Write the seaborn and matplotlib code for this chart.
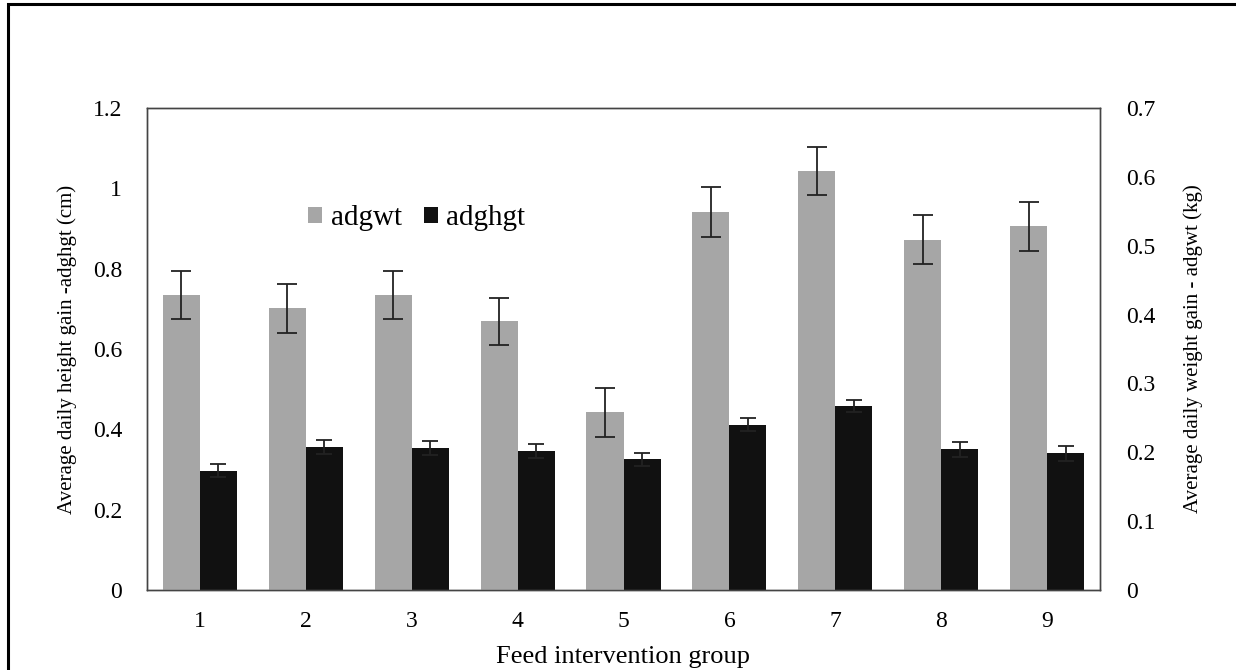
import matplotlib
matplotlib.use("Agg")
import matplotlib.pyplot as plt
import seaborn as sns
import pandas as pd
import numpy as np
from matplotlib.patches import Rectangle, Patch

groups = ["1", "2", "3", "4", "5", "6", "7", "8", "9"]
adgwt = [0.429, 0.409, 0.429, 0.390, 0.258, 0.549, 0.609, 0.509, 0.528]
adgwt_err = [0.035, 0.036, 0.035, 0.034, 0.036, 0.036, 0.035, 0.035, 0.036]
adghgt = [0.297, 0.356, 0.353, 0.346, 0.325, 0.412, 0.458, 0.350, 0.340]
adghgt_err = [0.016, 0.017, 0.017, 0.017, 0.017, 0.015, 0.016, 0.018, 0.018]
series = ["adgwt", "adghgt"]
colors = {"adgwt": "#a6a6a6", "adghgt": "#111111"}

sns.set_style("white")
plt.rcParams["font.family"] = ["Liberation Serif", "DejaVu Serif"]
plt.rcParams["text.color"] = "black"
plt.rcParams["axes.labelcolor"] = "black"
plt.rcParams["xtick.color"] = "black"
plt.rcParams["ytick.color"] = "black"

df_w = pd.DataFrame({"group": groups, "value": adgwt, "series": "adgwt"})
df_h = pd.DataFrame({"group": groups, "value": adghgt, "series": "adghgt"})

fig = plt.figure(figsize=(12.36, 6.70), dpi=100)
ax = fig.add_axes([147/1236, 1 - 590/670, 953/1236, 482/670])
ax2 = ax.twinx()
ax2.patch.set_visible(False)

sns.barplot(data=df_h, x="group", y="value", hue="series", hue_order=series,
            order=groups, palette=colors, width=0.7, errorbar=None, dodge=True,
            ax=ax, legend=False, saturation=1)
sns.barplot(data=df_w, x="group", y="value", hue="series", hue_order=series,
            order=groups, palette=colors, width=0.7, errorbar=None, dodge=True,
            ax=ax2, legend=False, saturation=1)

for a in (ax, ax2):
    for p in a.patches:
        p.set_edgecolor("none")

# error bars at bar centers
hx = [p.get_x() + p.get_width() / 2 for p in ax.patches if p.get_height() > 0]
wx = [p.get_x() + p.get_width() / 2 for p in ax2.patches if p.get_height() > 0]
ax.errorbar(hx, adghgt, yerr=adghgt_err, fmt="none", ecolor="#222222",
            elinewidth=1.3, capsize=6, capthick=1.3)
ax2.errorbar(wx, adgwt, yerr=adgwt_err, fmt="none", ecolor="#222222",
             elinewidth=1.3, capsize=7, capthick=1.3)

ax.set_ylim(0, 1.2)
ax.set_yticks([0, 0.2, 0.4, 0.6, 0.8, 1.0, 1.2])
ax.set_yticklabels(["0", "0.2", "0.4", "0.6", "0.8", "1", "1.2"])
ax2.set_ylim(0, 0.7)
ax2.set_yticks([0, 0.1, 0.2, 0.3, 0.4, 0.5, 0.6, 0.7])
ax2.set_yticklabels(["0", "0.1", "0.2", "0.3", "0.4", "0.5", "0.6", "0.7"])
ax.set_xlim(-0.5, 8.5)

fs = 17
ax.tick_params(axis="y", length=0, labelsize=fs, pad=18)
ax2.tick_params(axis="y", length=0, labelsize=fs, pad=19)
ax.tick_params(axis="x", length=0, pad=15, labelsize=fs)
ax.set_xlabel("Feed intervention group", fontsize=19, labelpad=10)
ax.set_ylabel("Average daily height gain -adghgt (cm)", fontsize=15, labelpad=11)
ax2.set_ylabel("Average daily weight gain - adgwt (kg)", fontsize=15, labelpad=20)

for a in (ax, ax2):
    for s in a.spines.values():
        s.set_visible(True)
        s.set_color("#444444")
        s.set_linewidth(1.0)

handles = [Patch(facecolor=colors["adgwt"], edgecolor="none"),
           Patch(facecolor=colors["adghgt"], edgecolor="none")]
leg = ax2.legend(handles, series, loc="center left", bbox_to_anchor=(0.169, 0.771),
                 ncol=2, frameon=False, fontsize=21, handlelength=0.48,
                 handleheight=0.42, handletextpad=0.3, columnspacing=0.75,
                 borderpad=0, borderaxespad=0)

fig.patches.append(Rectangle((7.5/1236, -0.05), 1.2, 1 - 4/670 + 0.05,
                             transform=fig.transFigure, fill=False,
                             edgecolor="black", linewidth=2.2))

fig.savefig("out.png", dpi=100)
